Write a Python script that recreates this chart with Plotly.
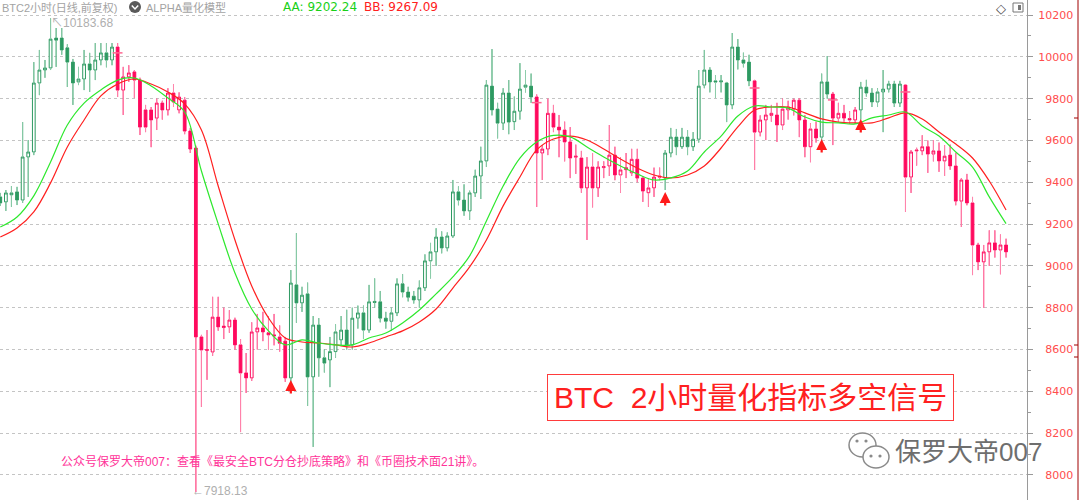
import plotly.graph_objects as go

# ---------------- data ----------------
open_ = [9330, 9306, 9340, 9354, 9315, 9521, 9545, 9875, 9937, 9947,
         10090, 10090, 10043, 9975, 9880, 9894, 9966, 9937, 9985, 10019,
         9985, 10047, 9841, 9904, 9928, 9889, 9746, 9746, 9707, 9779,
         9746, 9827, 9746, 9793, 9645, 9564, 8660, 8595, 8588, 8755,
         8712, 8708, 8741, 8622, 8488, 8464, 8684, 8703, 8680, 8670,
         8660, 8640, 8464, 8909, 8823, 8866, 8469, 8717, 8560, 8550,
         8590, 8646, 8693, 8622, 8750, 8775, 8693, 8830, 8828, 8750,
         8735, 8775, 8914, 8875, 8855, 8837, 8895, 9024, 9067, 9138,
         9086, 9143, 9354, 9315, 9263, 9349, 9430, 9502, 9860, 9750,
         9683, 9827, 9690, 9740, 9855, 9860, 9808, 9540, 9559, 9730,
         9664, 9650, 9593, 9520, 9516, 9373, 9473, 9373, 9470, 9478,
         9530, 9435, 9470, 9445, 9510, 9420, 9350, 9373, 9430, 9420,
         9540, 9616, 9570, 9616, 9570, 9606, 9865, 9937, 9885, 9880,
         9875, 9770, 10047, 9985, 9975, 9885, 9640, 9698, 9720, 9722,
         9674, 9746, 9750, 9793, 9698, 9570, 9655, 9616, 9880, 9822,
         9707, 9730, 9705, 9698, 9746, 9855, 9827, 9784, 9832, 9846,
         9870, 9779, 9865, 9425, 9550, 9550, 9570, 9535, 9550, 9502,
         9530, 9478, 9310, 9411, 9301, 9100, 9019, 9067, 9110, 9076,
         9100]
high = [9349, 9363, 9382, 9378, 9688, 9602, 9975, 10033, 9985, 10184,
        10138, 10138, 10060, 9990, 9952, 10033, 10019, 10066, 10066, 10066,
        10066, 10066, 9952, 9960, 9937, 9900, 9770, 9760, 9800, 9790,
        9850, 9870, 9830, 9808, 9660, 9575, 8670, 8693, 8852, 8852,
        8800, 8788, 8752, 8650, 8583, 8730, 8770, 8780, 8760, 8770,
        8715, 8660, 8980, 9157, 8900, 8920, 8760, 8750, 8600, 8660,
        8720, 8760, 8790, 8800, 8810, 8810, 8909, 8940, 8880, 8780,
        8800, 8940, 8960, 8900, 8880, 8930, 9055, 9110, 9180, 9165,
        9160, 9411, 9380, 9390, 9360, 9460, 9570, 9889, 10037, 9780,
        9850, 9889, 9810, 9970, 9937, 9920, 9820, 9578, 9800, 9770,
        9722, 9690, 9664, 9580, 9550, 9520, 9540, 9500, 9500, 9674,
        9570, 9520, 9540, 9560, 9560, 9430, 9420, 9470, 9470, 9554,
        9660, 9655, 9660, 9650, 9640, 9937, 10033, 9950, 9913, 9913,
        9880, 10114, 10085, 10020, 10010, 9890, 9720, 9770, 9770, 9780,
        9800, 9790, 9800, 9803, 9722, 9683, 9690, 9920, 10004, 9832,
        9780, 9770, 9740, 9760, 9880, 9890, 9850, 9850, 9937, 9885,
        9885, 9885, 9870, 9554, 9565, 9625, 9600, 9600, 9590, 9578,
        9580, 9540, 9420, 9440, 9330, 9110, 9100, 9170, 9170, 9150,
        9130]
low = [9287, 9263, 9282, 9291, 9301, 9330, 9530, 9817, 9900, 9937,
       9952, 10010, 9856, 9770, 9865, 9841, 9832, 9889, 9960, 9950,
       9960, 9808, 9722, 9880, 9803, 9626, 9640, 9568, 9650, 9700,
       9720, 9760, 9730, 9630, 9540, 7918, 8325, 8455, 8570, 8690,
       8650, 8680, 8600, 8205, 8392, 8450, 8600, 8640, 8600, 8620,
       8590, 8445, 8445, 8728, 8780, 8330, 8134, 8470, 8490, 8420,
       8560, 8620, 8600, 8600, 8700, 8650, 8680, 8800, 8730, 8700,
       8690, 8760, 8850, 8830, 8820, 8800, 8880, 8940, 9000, 9060,
       9070, 9134, 9290, 9240, 9220, 9330, 9320, 9473, 9720, 9610,
       9650, 9630, 9650, 9700, 9830, 9780, 9282, 9411, 9530, 9640,
       9520, 9500, 9420, 9440, 9350, 9124, 9280, 9330, 9420, 9430,
       9410, 9349, 9420, 9430, 9400, 9306, 9282, 9330, 9410, 9363,
       9520, 9530, 9560, 9530, 9550, 9590, 9850, 9830, 9803, 9830,
       9688, 9750, 9940, 9950, 9860, 9459, 9620, 9602, 9690, 9593,
       9650, 9700, 9720, 9616, 9520, 9496, 9590, 9600, 9800, 9578,
       9690, 9690, 9680, 9680, 9700, 9810, 9760, 9760, 9640, 9830,
       9760, 9760, 9258, 9349, 9480, 9530, 9445, 9500, 9450, 9430,
       9460, 9290, 9186, 9290, 8956, 8980, 8800, 9000, 9040, 8960,
       9040]
close = [9301, 9349, 9349, 9315, 9521, 9545, 9875, 9937, 9947, 10085,
         10080, 10033, 9975, 9875, 9894, 9966, 9937, 9985, 10019, 9985,
         10047, 9841, 9904, 9923, 9889, 9664, 9664, 9698, 9779, 9746,
         9827, 9784, 9808, 9645, 9559, 8660, 8598, 8600, 8755, 8708,
         8705, 8741, 8622, 8488, 8464, 8684, 8703, 8684, 8670, 8665,
         8630, 8464, 8918, 8823, 8860, 8469, 8717, 8560, 8535, 8590,
         8684, 8693, 8622, 8750, 8775, 8693, 8828, 8825, 8750, 8735,
         8775, 8914, 8875, 8850, 8837, 8895, 9024, 9067, 9138, 9086,
         9143, 9354, 9315, 9263, 9349, 9430, 9502, 9865, 9746, 9683,
         9827, 9688, 9740, 9846, 9865, 9808, 9540, 9559, 9730, 9664,
         9650, 9593, 9516, 9525, 9373, 9473, 9373, 9473, 9475, 9530,
         9435, 9459, 9460, 9510, 9420, 9358, 9373, 9425, 9425, 9540,
         9616, 9570, 9616, 9570, 9606, 9860, 9937, 9880, 9880, 9885,
         9770, 10047, 9985, 9970, 9885, 9640, 9698, 9722, 9730, 9674,
         9750, 9760, 9793, 9698, 9570, 9655, 9612, 9880, 9822, 9707,
         9730, 9707, 9698, 9746, 9855, 9827, 9784, 9832, 9846, 9870,
         9779, 9870, 9425, 9545, 9554, 9570, 9535, 9550, 9502, 9525,
         9478, 9310, 9411, 9301, 9100, 9019, 9067, 9110, 9076, 9100,
         9067]

# signal regimes: (first candle, last candle, state)
regime_segments = [(0, 20, "long"), (21, 51, "short"), (52, 95, "long"),
                   (96, 118, "short"), (119, 134, "long"), (135, 146, "short"),
                   (147, 148, "long"), (149, 153, "short"), (154, 161, "long"),
                   (162, 180, "short")]

# indicator lines read every 3 candles
ma_idx = [0, 3, 6, 9, 12, 15, 18, 21, 24, 27, 30, 33, 36, 39, 42, 45, 48, 51,
          54, 57, 60, 63, 66, 69, 72, 75, 78, 81, 84, 87, 90, 93, 96, 99, 102,
          105, 108, 111, 114, 117, 120, 123, 126, 129, 132, 135, 138, 141, 144,
          147, 150, 153, 156, 159, 162, 165, 168, 171, 174, 177, 180]
aa = [9186, 9234, 9335, 9497, 9674, 9779, 9842, 9889, 9899, 9861, 9803, 9736,
      9454, 9201, 8966, 8794, 8689, 8622, 8646, 8631, 8622, 8622, 8655, 8679,
      8727, 8789, 8866, 8947, 9048, 9215, 9382, 9516, 9593, 9624, 9617, 9569,
      9521, 9478, 9440, 9411, 9421, 9454, 9545, 9621, 9717, 9765, 9760, 9755,
      9712, 9688, 9684, 9679, 9708, 9722, 9736, 9669, 9621, 9545, 9473, 9330,
      9202]
bb = [9138, 9181, 9258, 9397, 9569, 9698, 9813, 9870, 9894, 9870, 9832, 9775,
      9650, 9382, 9124, 8904, 8751, 8655, 8636, 8631, 8622, 8612, 8631, 8660,
      8689, 8732, 8794, 8894, 8995, 9124, 9287, 9425, 9555, 9607, 9621, 9602,
      9559, 9511, 9468, 9435, 9421, 9435, 9478, 9564, 9665, 9746, 9760, 9760,
      9732, 9703, 9688, 9684, 9684, 9708, 9732, 9703, 9641, 9583, 9516, 9406,
      9267]

signal_idx = [52, 119, 147, 154]
signal_price = [8454, 9354, 9607, 9703]
exit_idx = [21, 96, 135, 149, 162]
exit_price = [10019, 9781, 9851, 9794, 9832]

ytick_vals = [8000, 8200, 8400, 8600, 8800, 9000, 9200, 9400, 9600, 9800, 10000, 10200]
ytick_text = ["8000", "8200", "8400", "8600", "8800", "9000", "9200", "9400",
              "9600", "9800", "10000", "10200"]
yminor_vals = [8100, 8300, 8500, 8700, 8900, 9100, 9300, 9500, 9700, 9900, 10100]

aa_label = "AA: 9202.24"
bb_label = "BB: 9267.09"
high_label = "↖10183.68"
low_label = "←7918.13"

# ---------------- styling ----------------
W, H = 1080, 500
PLOT_W = 1027
GREEN_BODY = "#2E9A62"
GREEN_WICK = "#8ECDAB"
RED_BODY = "#FF0A5E"
RED_WICK = "#FF88AE"
FONT = "Liberation Sans, Noto Sans CJK SC, sans-serif"


def px(x):
    return x / PLOT_W


def py(y):
    return 1 - y / H


n = len(open_)
regime = [None] * n
for a, b, s in regime_segments:
    for i in range(a, b + 1):
        regime[i] = s

fig = go.Figure()

styles = {"long": (GREEN_BODY, GREEN_WICK), "short": (RED_BODY, RED_WICK)}
for state, (body, wick) in styles.items():
    idx = [i for i in range(n) if regime[i] == state]
    fig.add_trace(go.Candlestick(
        x=idx,
        open=[open_[i] for i in idx], high=[high[i] for i in idx],
        low=[low[i] for i in idx], close=[close[i] for i in idx],
        increasing=dict(line=dict(color=body, width=1), fillcolor="white"),
        decreasing=dict(line=dict(color=body, width=1), fillcolor=body),
        whiskerwidth=0, showlegend=False, hoverinfo="skip"))

for state, (body, wick) in styles.items():
    wx, wy = [], []
    for i in range(n):
        if regime[i] != state:
            continue
        top = max(open_[i], close[i])
        bot = min(open_[i], close[i])
        wx += [i, i, None, i, i, None]
        wy += [high[i], top, None, bot, low[i], None]
    fig.add_trace(go.Scatter(x=wx, y=wy, mode="lines",
                             line=dict(color=wick, width=1),
                             showlegend=False, hoverinfo="skip"))

fig.add_trace(go.Scatter(x=ma_idx, y=bb, mode="lines",
                         line=dict(color="#FF2020", width=1.2, shape="spline"),
                         showlegend=False, hoverinfo="skip"))
fig.add_trace(go.Scatter(x=ma_idx, y=aa, mode="lines",
                         line=dict(color="#2EE82E", width=1.2, shape="spline"),
                         showlegend=False, hoverinfo="skip"))
fig.add_trace(go.Scatter(x=exit_idx, y=exit_price, mode="markers",
                         marker=dict(symbol="line-ew-open", size=7,
                                     line=dict(color="#22CC22", width=1.5)),
                         showlegend=False, hoverinfo="skip"))

annotations = []
for i, p in zip(signal_idx, signal_price):
    annotations.append(dict(x=i, y=p, xref="x", yref="y", text="", showarrow=True,
                            ax=0, ay=15, arrowhead=2, arrowsize=1, arrowwidth=2.2,
                            arrowcolor="#FF1A1A", standoff=0))

def label(x, y, text, color, size=12, xanchor="left", family=FONT, **kw):
    d = dict(x=px(x), y=py(y), xref="paper", yref="paper", text=text,
             showarrow=False, xanchor=xanchor, yanchor="middle",
             font=dict(family=family, size=size, color=color))
    d.update(kw)
    annotations.append(d)

label(0, 7, "BTC2小时(日线,前复权)", "#A3A3A3", size=11)
label(144, 7, "ALPHA量化模型", "#A3A3A3", size=11)
label(281, 7, aa_label, "#18D018", family="DejaVu Sans")
label(362, 7, bb_label, "#FF2020", family="DejaVu Sans")
label(49, 23, high_label, "#AFAFAF")
label(190, 491, low_label, "#AFAFAF")
label(59, 461, "公众号保罗大帝007：查看《最安全BTC分仓抄底策略》和《币圈技术面21讲》。", "#FF3399")
label(750, 397, "BTC  2小时量化指标多空信号", "#FF2020", size=30, xanchor="center",
      bordercolor="#FF3B3B", borderwidth=1, borderpad=6, bgcolor="white")
label(893, 452, "保罗大帝007", "#6E6E6E", size=26)
label(1001, 8, "◇", "#444444", size=13, xanchor="center", family="DejaVu Sans")

shapes = []
# header dropdown icon
x0, y0 = px(129), py(13)
x1, y1 = px(141), py(1)
shapes.append(dict(type="circle", xref="paper", yref="paper", x0=x0, y0=y0, x1=x1, y1=y1,
                   fillcolor="#5A5A5A", line=dict(width=0), layer="above"))
shapes.append(dict(type="path", xref="paper", yref="paper",
                   path=f"M {px(131.8)},{py(5.5)} L {px(135)},{py(9)} L {px(138.2)},{py(5.5)}",
                   line=dict(color="white", width=1.5)))
# top-right icon
shapes.append(dict(type="rect", xref="paper", yref="paper", x0=px(1013), x1=px(1023),
                   y0=py(12), y1=py(3), line=dict(color="#777777", width=1)))
shapes.append(dict(type="rect", xref="paper", yref="paper", x0=px(1018), x1=px(1021),
                   y0=py(10), y1=py(5), fillcolor="#777777", line=dict(width=0)))
# right frame line
shapes.append(dict(type="line", xref="paper", yref="paper", x0=px(1078), x1=px(1078),
                   y0=0, y1=1, line=dict(color="#A00000", width=1)))
for yy in (118, 345, 357):
    shapes.append(dict(type="line", xref="paper", yref="paper", x0=px(1074), x1=px(1078),
                       y0=py(yy), y1=py(yy), line=dict(color="#A00000", width=1)))
# WeChat-like icon
shapes.append(dict(type="circle", xref="paper", yref="paper", x0=px(849), x1=px(876),
                   y0=py(457), y1=py(433), fillcolor="white", line=dict(color="#8A8A8A", width=1.5)))
shapes.append(dict(type="circle", xref="paper", yref="paper", x0=px(863), x1=px(889),
                   y0=py(468), y1=py(446), fillcolor="white", line=dict(color="#8A8A8A", width=1.5)))
for ex, ey in ((857, 441), (866, 441), (871, 456), (880, 456)):
    shapes.append(dict(type="circle", xref="paper", yref="paper", x0=px(ex - 1.6), x1=px(ex + 1.6),
                       y0=py(ey + 1.6), y1=py(ey - 1.6), fillcolor="#8A8A8A", line=dict(width=0)))

fig.update_layout(
    width=W, height=H,
    margin=dict(l=0, r=W - PLOT_W, t=0, b=0),
    paper_bgcolor="white", plot_bgcolor="white",
    font=dict(family=FONT),
    showlegend=False,
    xaxis=dict(range=[-0.05, 183.75], visible=False, rangeslider=dict(visible=False),
               fixedrange=True),
    yaxis=dict(side="right", range=[7880, 10272], tickmode="array",
               tickvals=ytick_vals,
               ticktext=[("\u2007" + t) if len(t) == 4 else t for t in ytick_text],
               tickfont=dict(family="DejaVu Sans", size=11, color="#FF4D4D"),
               showgrid=True, gridcolor="#C4C4C4", griddash="dot", gridwidth=1,
               showline=True, linecolor="#9A9A9A", linewidth=1,
               ticks="outside", ticklen=5, tickcolor="#9A9A9A", ticklabelstandoff=3,
               minor=dict(tickvals=yminor_vals, ticks="outside", ticklen=3,
                          tickcolor="#9A9A9A", showgrid=False),
               zeroline=False, fixedrange=True),
    annotations=annotations,
    shapes=shapes,
)

fig.write_html("out.html", config={"displayModeBar": False},
               post_script="document.body.style.margin='0';document.body.style.overflow='hidden';")
